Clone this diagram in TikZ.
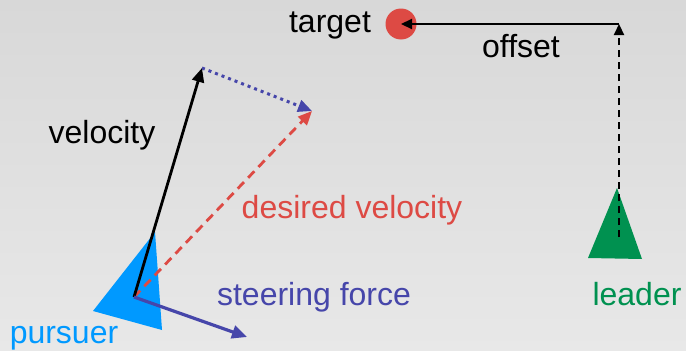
\documentclass[tikz,border=0pt]{standalone}
\usepackage{fontspec}
\setmainfont{Liberation Sans}
\usetikzlibrary{arrows.meta}
\definecolor{bgtop}{HTML}{D8D8D8}
\definecolor{bgbot}{HTML}{E8E8E8}
\definecolor{pblue}{HTML}{0099FF}
\definecolor{dred}{HTML}{DD4A44}
\definecolor{sblue}{HTML}{4646AA}
\definecolor{lgreen}{HTML}{009150}
\tikzset{
  lbl/.style={anchor=base, inner sep=0pt, font=\fontsize{32}{38}\selectfont},
  tip/.style={-{Triangle[length=14pt,width=12pt]}},
}
\begin{document}
\begin{tikzpicture}[x=1pt,y=-1pt]
\shade[top color=bgtop, bottom color=bgbot] (0,0) rectangle (686,351);
\useasboundingbox (0,0) rectangle (686,351);
% key points
\coordinate (P) at (134,297);
\coordinate (V) at (202,68);
\coordinate (D) at (312,111);
\coordinate (S) at (247,337);
\coordinate (O) at (619,24);
\coordinate (L) at (619,237);
% pursuer
\fill[pblue] (155,232) -- (93,311) -- (162,330) -- cycle;
% leader
\fill[lgreen] (617,188) -- (588,258) -- (642,259) -- cycle;
% target
\node[circle, fill=dred, minimum size=31pt, inner sep=0pt] (T) at (401,24) {};
% arrows
\draw[dred, line width=2.8pt, dash pattern=on 9pt off 6pt, tip] (P) -- (D);
\draw[sblue, line width=3pt, dash pattern=on 3pt off 4pt, tip] (V) -- (D);
\draw[black, line width=2.8pt, tip] (P) -- (V);
\draw[sblue, line width=3.2pt, -{Triangle[length=15pt,width=13pt]}] (P) -- (S);
\draw[black, line width=2.2pt, dash pattern=on 7pt off 5pt, -{Triangle[length=11pt,width=10pt]}] (L) -- (O);
\draw[black, line width=2.2pt, -{Triangle[length=11pt,width=10pt]}] (O) -- (T.center);
% labels
\node[lbl] (tl) at (330,32) {target};
\node[lbl] (ol) at (521,57) {offset};
\node[lbl] (vl) at (102,143) {velocity};
\node[lbl, text=dred] (dl) at (352,218) {desired velocity};
\node[lbl, text=sblue] (sl) at (314,305) {steering force};
\node[lbl, text=pblue] (pl) at (64,343) {pursuer};
\node[lbl, text=lgreen] (ll) at (637,305) {leader};
\end{tikzpicture}
\end{document}
